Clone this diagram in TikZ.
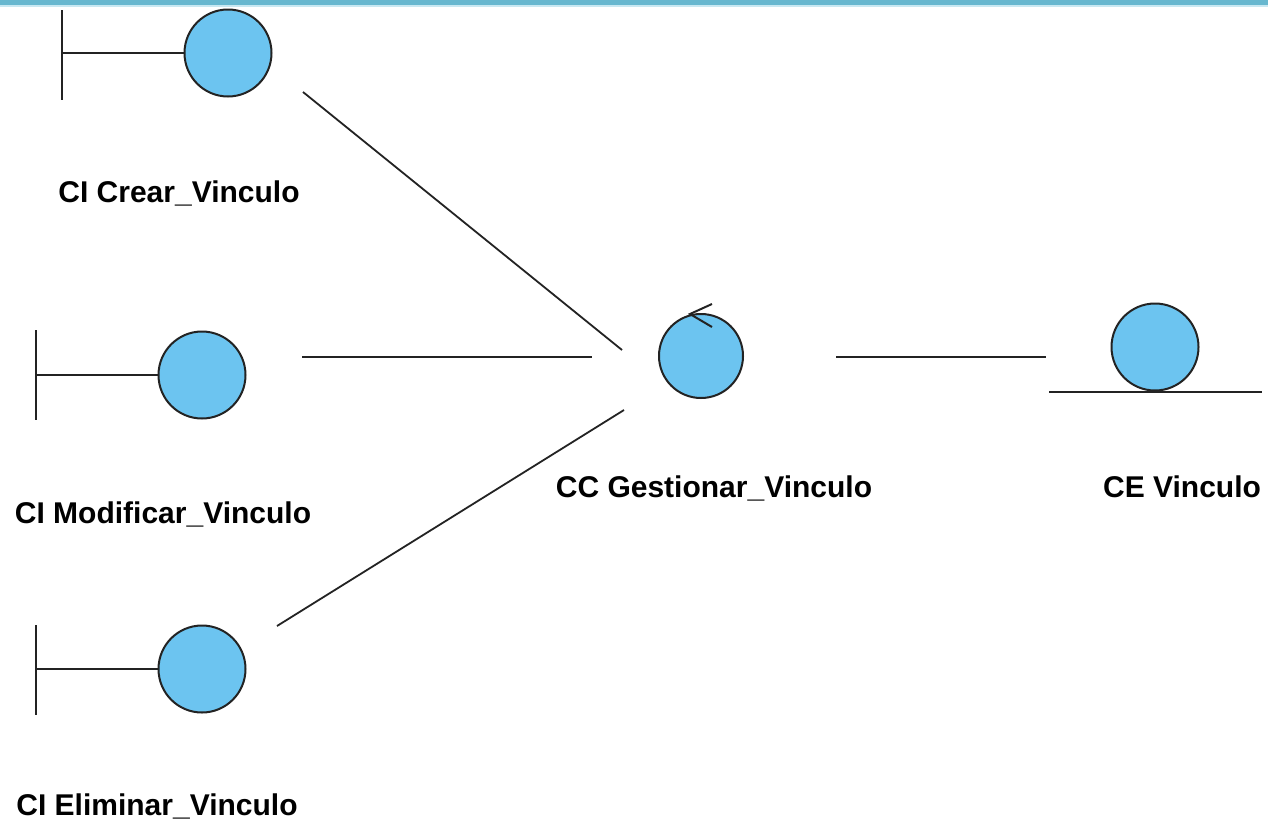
\documentclass[tikz,border=0pt]{standalone}
\usepackage{fontspec}
\setmainfont{Liberation Sans}
\definecolor{ballblue}{RGB}{108,196,240}
\definecolor{barblue}{RGB}{103,183,207}
\definecolor{barlight}{RGB}{200,232,242}
\definecolor{ink}{RGB}{35,35,35}
\begin{document}
\begin{tikzpicture}[x=1pt,y=-1pt,
  ball/.style={circle, draw=ink, fill=ballblue, line width=2pt, minimum size=87pt, inner sep=0pt},
  stem/.style={draw=ink, line width=2pt},
  link/.style={draw=ink, line width=1.8pt},
  lbl/.style={font=\bfseries\fontsize{30}{32}\selectfont, anchor=base, inner sep=0pt, text=black}]
  % canvas and title strip
  \fill[white] (0,0) rectangle (1268,825);
  \useasboundingbox (0,0) rectangle (1268,825);
  \fill[barlight] (0,4) rectangle (1268,7);
  \fill[barblue] (0,0) rectangle (1268,4.5);

  % boundary objects
  \node[ball] (crear) at (228,53) {};
  \coordinate (crear-bar) at (62,53);
  \draw[stem] (62,10) -- (62,100);
  \draw[stem] (crear-bar) -- (crear.west);
  \node[lbl] (crear-l) at (179,202) {CI Crear\_Vinculo};

  \node[ball] (modif) at (202,375) {};
  \coordinate (modif-bar) at (36,375);
  \draw[stem] (36,330) -- (36,420);
  \draw[stem] (modif-bar) -- (modif.west);
  \node[lbl] (modif-l) at (163,523) {CI Modificar\_Vinculo};

  \node[ball] (elim) at (202,669) {};
  \coordinate (elim-bar) at (36,669);
  \draw[stem] (36,625) -- (36,715);
  \draw[stem] (elim-bar) -- (elim.west);
  \node[lbl] (elim-l) at (157,815) {CI Eliminar\_Vinculo};

  % control object
  \node[ball, minimum size=84pt] (gest) at (701,356) {};
  \draw[stem] (712,304) -- (690,314) -- (712,327);
  \node[lbl] (gest-l) at (714,497) {CC Gestionar\_Vinculo};

  % entity object
  \node[ball] (ent) at (1155,347) {};
  \draw[stem] (1049,392) -- (1262,392);
  \node[lbl] (ent-l) at (1182,497) {CE Vinculo};

  % connector ends
  \coordinate (crear-o) at (303,92);
  \coordinate (modif-o) at (302,357);
  \coordinate (elim-o) at (277,626);
  \coordinate (gest-nw) at (622,350);
  \coordinate (gest-w) at (592,357);
  \coordinate (gest-sw) at (624,410);
  \coordinate (gest-e) at (836,357);
  \coordinate (ent-w) at (1046,357);

  % associations
  \draw[link] (crear-o) -- (gest-nw);
  \draw[link] (modif-o) -- (gest-w);
  \draw[link] (elim-o) -- (gest-sw);
  \draw[link] (gest-e) -- (ent-w);
\end{tikzpicture}
\end{document}
